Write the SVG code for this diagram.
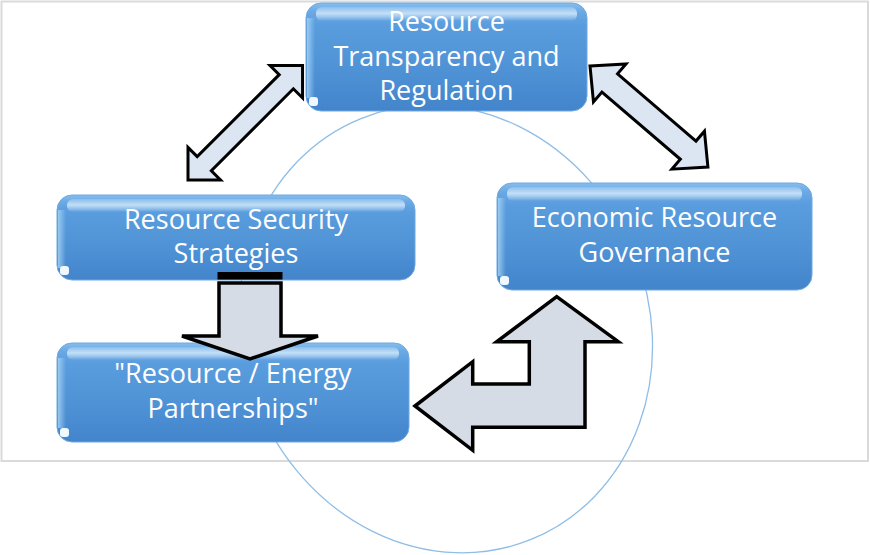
<svg xmlns="http://www.w3.org/2000/svg" width="870" height="555" viewBox="0 0 870 555">
<defs>
<linearGradient id="boxFill" x1="0" y1="0" x2="0" y2="1">
<stop offset="0" stop-color="#86bdee"/>
<stop offset="0.08" stop-color="#6aa9e4"/>
<stop offset="0.2" stop-color="#5a9dde"/>
<stop offset="0.6" stop-color="#4f93d6"/>
<stop offset="1" stop-color="#4384cb"/>
</linearGradient>
<linearGradient id="shine" x1="0" y1="0" x2="0" y2="1">
<stop offset="0" stop-color="#ffffff" stop-opacity="0.15"/>
<stop offset="0.45" stop-color="#dff2ff" stop-opacity="0.75"/>
<stop offset="1" stop-color="#ffffff" stop-opacity="0"/>
</linearGradient>
<linearGradient id="edgeL" x1="0" y1="0" x2="1" y2="0">
<stop offset="0" stop-color="#a9d6f5" stop-opacity="0.8"/>
<stop offset="1" stop-color="#a9d6f5" stop-opacity="0"/>
</linearGradient>
<style>
.box{fill:url(#boxFill);stroke:#6fa9e0;stroke-width:1}
.shine{fill:url(#shine)}
.spot{fill:#eef8fe}
.lbl{font-family:"Open Sans","Liberation Sans",sans-serif;font-size:27px;fill:#ffffff;text-anchor:middle}
.dbl{fill:#dce6f2;stroke:#000;stroke-width:3;stroke-linejoin:miter}
.blk{fill:#d6dce5;stroke:#000;stroke-width:3.5;stroke-linejoin:miter}
</style>
</defs>
<rect x="0" y="0" width="870" height="555" fill="#ffffff"/>
<rect x="1.5" y="1.5" width="866.5" height="459.5" fill="none" stroke="#dadada" stroke-width="2"/>
<ellipse id="ring" cx="446" cy="329" rx="203" ry="227" transform="rotate(-22 446 329)" fill="none" stroke="#8fbde6" stroke-width="1.3"/>

<g id="n1">
<rect class="box" x="306" y="3" width="281" height="108" rx="15"/>
<rect class="shine" x="316" y="7" width="261" height="14" rx="6"/>
<rect x="307" y="18" width="8" height="80" fill="url(#edgeL)"/>
<rect class="spot" x="309" y="97" width="9" height="9" rx="3"/>
<text class="lbl" x="446.5" y="31">Resource</text>
<text class="lbl" x="446.5" y="66">Transparency and</text>
<text class="lbl" x="446.5" y="100">Regulation</text>
</g>

<g id="n2">
<rect class="box" x="57" y="195" width="358" height="85" rx="15"/>
<rect class="shine" x="67" y="199" width="338" height="13" rx="6"/>
<rect x="58" y="210" width="8" height="58" fill="url(#edgeL)"/>
<rect class="spot" x="60" y="266" width="9" height="9" rx="3"/>
<text class="lbl" x="236" y="229">Resource Security</text>
<text class="lbl" x="236" y="263">Strategies</text>
</g>

<g id="n3">
<rect class="box" x="57" y="343" width="352" height="99" rx="15"/>
<rect class="shine" x="67" y="347" width="332" height="13" rx="6"/>
<rect x="58" y="358" width="8" height="70" fill="url(#edgeL)"/>
<rect class="spot" x="60" y="428" width="9" height="9" rx="3"/>
<text class="lbl" x="233" y="383">"Resource / Energy</text>
<text class="lbl" x="233" y="418">Partnerships"</text>
</g>

<g id="n4">
<rect class="box" x="497" y="183" width="315" height="107" rx="15"/>
<rect class="shine" x="507" y="187" width="295" height="14" rx="6"/>
<rect x="498" y="198" width="8" height="78" fill="url(#edgeL)"/>
<rect class="spot" x="500" y="276" width="9" height="9" rx="3"/>
<text class="lbl" x="654.5" y="227">Economic Resource</text>
<text class="lbl" x="654.5" y="262">Governance</text>
</g>

<g id="connectors">
<polygon class="dbl" transform="translate(188 180) rotate(-45)" points="0,0 23,-23 23,-10 139,-10 139,-23 162,0 139,23 139,10 23,10 23,23"/>
<polygon class="dbl" transform="translate(590 66) rotate(40.6)" points="0,0 26,-25 26,-12 129.3,-12 129.3,-25 155.3,0 129.3,25 129.3,12 26,12 26,25"/>
<g id="down-arrow">
<polygon class="blk" points="219,283 281,283 281,336 318,336 250,359 182,336 219,336"/>
<rect x="217.5" y="272" width="65" height="7.5" fill="#000"/>
</g>
<polygon class="blk" points="415,406 472.7,361.7 472.7,384 529.3,384 529.3,341.7 496.7,341.7 556.7,296.7 618.3,341.7 585,341.7 585,427.3 472.7,427.3 472.7,450.3"/>
</g>
</svg>
